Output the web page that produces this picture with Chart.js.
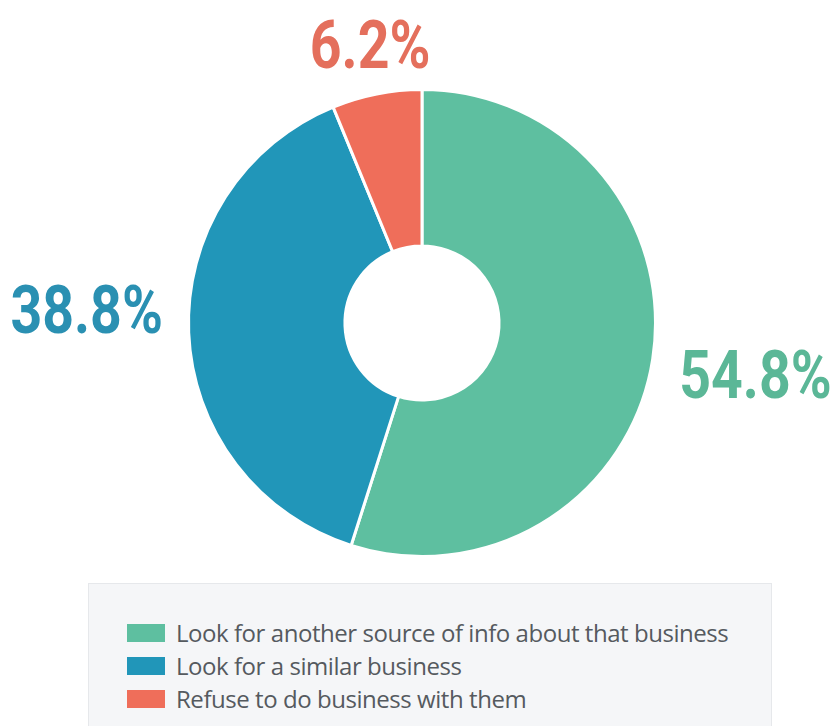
<!DOCTYPE html>
<html>
<head>
<meta charset="utf-8">
<script src="https://cdn.jsdelivr.net/npm/chart.js@4.4.1/dist/chart.umd.min.js"></script>
<style>
  html, body { margin: 0; padding: 0; background: #ffffff; }
  #wrap { position: relative; width: 835px; height: 726px; overflow: hidden; }
  #chart { position: absolute; left: 0; top: 0; }
  #legend {
    position: absolute; left: 88px; top: 583px; width: 684px; height: 160px;
    background: #f5f6f8; border: 1px solid #e6e8eb; box-sizing: border-box;
    font-family: "Open Sans", sans-serif; font-size: 24px; color: #555a5f;
    padding-top: 32px; padding-left: 38px;
  }
  .item { display: flex; align-items: center; height: 33px; letter-spacing: -0.45px; white-space: nowrap; }
  .swatch { width: 38px; height: 18px; margin-right: 11px; flex: none; }
</style>
</head>
<body>
<div id="wrap">
  <canvas id="chart" width="835" height="726"></canvas>
  <div id="legend"></div>
</div>
<script>
document.addEventListener("DOMContentLoaded", function () {
    // Ответы и их доли
    const categories = [
        "Look for another source of info about that business",
        "Look for a similar business",
        "Refuse to do business with them",
    ];
    const shares = [54.8, 38.8, 6.2];
    const sliceColors = ["#5ebfa0", "#2196b9", "#ef6e5a"];
    const labelColors = ["#5bb797", "#2a90b2", "#e46f5c"];
    // небольшой сдвиг подписей относительно середины сектора
    const labelShift = [[0, 0], [0, -27], [5, 9]];

    // Подписи с процентами вокруг кольца
    const percentLabels = {
        id: "percentLabels",
        afterDatasetsDraw(chart) {
            const ctx = chart.ctx;
            const meta = chart.getDatasetMeta(0);
            ctx.save();
            ctx.font = "bold 66px Roboto";
            ctx.textAlign = "center";
            ctx.textBaseline = "alphabetic";
            const squeeze = 0.84;
            const capHalf = 23.5;
            meta.data.forEach((arc, i) => {
                const text = shares[i].toFixed(1) + "%";
                const mid = (arc.startAngle + arc.endAngle) / 2;
                const cos = Math.cos(mid), sin = Math.sin(mid);
                const halfW = ctx.measureText(text).width * squeeze / 2;
                const dist = arc.outerRadius + 25 + Math.abs(cos) * halfW + Math.abs(sin) * capHalf;
                const x = arc.x + cos * dist + labelShift[i][0];
                const y = arc.y + sin * dist + labelShift[i][1];
                ctx.save();
                ctx.translate(x, y + capHalf);
                ctx.scale(squeeze, 1);
                ctx.fillStyle = labelColors[i];
                ctx.fillText(text, 0, 0);
                ctx.restore();
            });
            ctx.restore();
        },
    };

    new Chart(document.getElementById("chart"), {
        type: "doughnut",
        data: {
            labels: categories,
            datasets: [
                {
                    data: shares,
                    backgroundColor: sliceColors,
                    borderColor: "#ffffff",
                    borderWidth: 3,
                },
            ],
        },
        options: {
            responsive: false,
            animation: false,
            cutout: "33%",
            layout: { padding: { left: 187, right: 178, top: 88, bottom: 168 } },
            plugins: {
                legend: { display: false },
                tooltip: { enabled: false },
            },
        },
        plugins: [percentLabels],
    });

    // Легенда под диаграммой
    const legend = document.getElementById("legend");
    categories.forEach((name, i) => {
        const row = document.createElement("div");
        row.className = "item";
        row.innerHTML = "<span class='swatch' style='background:" + sliceColors[i] + "'></span>" + name;
        legend.appendChild(row);
    });
});
</script>
</body>
</html>
